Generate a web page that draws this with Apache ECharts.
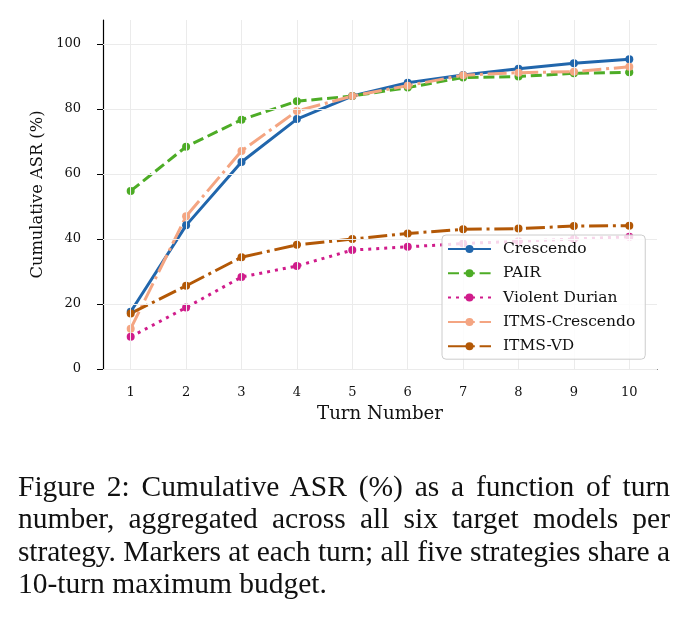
<!DOCTYPE html>
<html>
<head>
<meta charset="utf-8">
<script src="https://cdn.jsdelivr.net/npm/echarts@6/dist/echarts.min.js"></script>
<style>
  html, body { margin: 0; padding: 0; background: #ffffff; }
  #wrap { position: relative; width: 688px; height: 626px; overflow: hidden; }
  #chart { position: absolute; left: 0; top: 0; width: 688px; height: 626px; }
  #caption {
    position: absolute; left: 18px; top: 470px; width: 652px;
    font-family: "Liberation Serif", "Times New Roman", serif;
    font-size: 29.5px; line-height: 32.3px; color: #111;
  }
  #caption .j { text-align: justify; text-align-last: justify; white-space: nowrap; }
  #caption .t { letter-spacing: -0.12px; }
  #caption .l { text-align: left; white-space: nowrap; }
</style>
</head>
<body>
<div id="wrap">
  <div id="chart"></div>
  <div id="caption">
    <div class="j">Figure 2: Cumulative ASR (%) as a function of turn</div>
    <div class="j">number, aggregated across all six target models per</div>
    <div class="j t">strategy. Markers at each turn; all five strategies share a</div>
    <div class="l">10-turn maximum budget.</div>
  </div>
</div>
<script>
// ---- data ----
var turns = ['1', '2', '3', '4', '5', '6', '7', '8', '9', '10'];
var yTicks = [0, 20, 40, 60, 80, 100];
var crescendo = [17.6, 44.2, 63.7, 76.9, 84.0, 88.1, 90.5, 92.4, 94.1, 95.3];
var pair = [54.8, 68.4, 76.7, 82.4, 84.0, 86.6, 89.7, 90.0, 91.0, 91.3];
var violentDurian = [9.9, 18.9, 28.3, 31.7, 36.6, 37.6, 38.6, 39.3, 40.0, 40.7];
var itmsCrescendo = [12.4, 47.0, 67.1, 79.4, 84.0, 87.2, 90.4, 91.2, 91.5, 93.0];
var itmsVD = [17.1, 25.6, 34.4, 38.2, 40.0, 41.7, 43.0, 43.2, 44.0, 44.1];

var names = ['Crescendo', 'PAIR', 'Violent Durian', 'ITMS-Crescendo', 'ITMS-VD'];
var colors = ['#2166ac', '#4dac26', '#d01c8b', '#f4a582', '#b35806'];
var dashes = ['solid', [11, 4.8], [3, 5], [19, 4.8, 3, 4.8], [19, 4.8, 3, 4.8]];
var values = [crescendo, pair, violentDurian, itmsCrescendo, itmsVD];

var serif = '"DejaVu Serif", serif';

var chart = echarts.init(document.getElementById('chart'), null, { renderer: 'canvas' });

var series = [];
// grid lines (behind data)
series.push({
  type: 'line', name: '__grid', data: [], z: 1, silent: true,
  markLine: {
    silent: true, symbol: ['none', 'none'], animation: false,
    label: { show: false },
    lineStyle: { color: '#ebebeb', width: 1, type: 'solid' },
    data: yTicks.map(function (v) { return { yAxis: v }; })
      .concat(turns.map(function (t) { return { xAxis: t }; }))
  }
});
for (var i = 0; i < names.length; i++) {
  series.push({
    type: 'line', name: names[i], data: values[i], z: 2,
    symbol: 'circle', symbolSize: 8, showSymbol: true,
    color: colors[i],
    itemStyle: { color: colors[i] },
    lineStyle: { color: colors[i], width: 3, type: dashes[i], cap: 'butt' },
    animation: false
  });
}

chart.setOption({
  animation: false,
  grid: { left: 103, right: 31, top: 20, bottom: 257, containLabel: false },
  xAxis: {
    type: 'category', data: turns, boundaryGap: true,
    name: 'Turn Number', nameLocation: 'middle', nameGap: 36,
    nameTextStyle: { fontFamily: serif, fontSize: 18.2, color: '#111' },
    axisLine: { lineStyle: { color: '#000', width: 1.2 } },
    axisTick: { alignWithLabel: true, length: 6, lineStyle: { color: '#000', width: 1 } },
    axisLabel: { fontFamily: serif, fontSize: 13, color: '#111', margin: 17 },
    splitLine: { show: false }
  },
  yAxis: {
    type: 'value', min: 0, max: 107.4,
    name: 'Cumulative ASR (%)', nameLocation: 'middle', nameGap: 51,
    nameTextStyle: { fontFamily: serif, fontSize: 16.3, color: '#111' },
    axisLine: { show: true, lineStyle: { color: '#000', width: 1.2 } },
    axisTick: { show: true, length: 6, customValues: yTicks, lineStyle: { color: '#000', width: 1 } },
    axisLabel: { fontFamily: serif, fontSize: 13, color: '#111', margin: 22, customValues: yTicks },
    splitLine: { show: false }
  },
  legend: {
    data: names, z: 20,
    orient: 'vertical', left: 442, top: 235,
    backgroundColor: 'rgba(255,255,255,0.82)',
    borderColor: '#cccccc', borderWidth: 1, borderRadius: 4,
    padding: [6, 10, 5, 5],
    itemWidth: 43, itemHeight: 10, itemGap: 8.3,
    textStyle: { fontFamily: serif, fontSize: 15.5, lineHeight: 14, color: '#111', padding: [0, 0, 0, 7] }
  },
  series: series
});
</script>
</body>
</html>
